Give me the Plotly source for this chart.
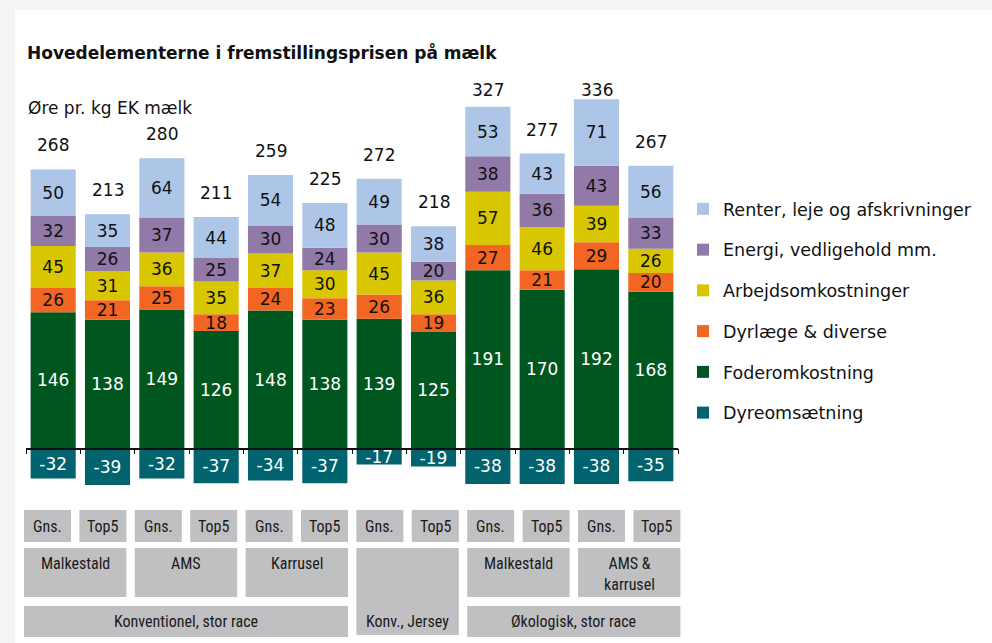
import plotly.graph_objects as go

# ---------------- data ----------------
bars = ["Malk Gns", "Malk Top5", "AMS Gns", "AMS Top5", "Karr Gns", "Karr Top5",
        "Jersey Gns", "Jersey Top5", "Øko Malk Gns", "Øko Malk Top5", "Øko AMS Gns", "Øko AMS Top5"]
dyreomsaetning = [-32, -39, -32, -37, -34, -37, -17, -19, -38, -38, -38, -35]
foder = [146, 138, 149, 126, 148, 138, 139, 125, 191, 170, 192, 168]
dyrlaege = [26, 21, 25, 18, 24, 23, 26, 19, 27, 21, 29, 20]
arbejd = [45, 31, 36, 35, 37, 30, 45, 36, 57, 46, 39, 26]
energi = [32, 26, 37, 25, 30, 24, 30, 20, 38, 36, 43, 33]
renter = [50, 35, 64, 44, 54, 48, 49, 38, 53, 43, 71, 56]
totals = [268, 213, 280, 211, 259, 225, 272, 218, 327, 277, 336, 267]

row1_labels = ["Gns.", "Top5"] * 6
row2_groups = [("Malkestald", 0, 1), ("AMS", 2, 3), ("Karrusel", 4, 5),
               ("Malkestald", 8, 9), ("AMS &<br>karrusel", 10, 11)]
row3_groups = [("Konventionel, stor race", 0, 5), ("Økologisk, stor race", 8, 11)]
jersey_group = ("Konv., Jersey", 6, 7)

series = [
    ("Dyreomsætning", dyreomsaetning, "#00636e", "white"),
    ("Foderomkostning", foder, "#00561f", "white"),
    ("Dyrlæge & diverse", dyrlaege, "#f26522", "#111111"),
    ("Arbejdsomkostninger", arbejd, "#d8c600", "#111111"),
    ("Energi, vedligehold mm.", energi, "#9179a8", "#111111"),
    ("Renter, leje og afskrivninger", renter, "#adc6e8", "#111111"),
]

# ---------------- layout constants ----------------
W, H = 992, 643
L, R, T, B = 26, 314, 90, 143
PLOT_H = H - T - B
PLOT_BOTTOM = H - B
YMIN, YMAX = -55, 384
LABEL_CEIL = 358  # total labels never go higher than this (as in the original)
FONT = "DejaVu Sans, Noto Sans, sans-serif"
COND = "Liberation Sans Narrow, Roboto Condensed, DejaVu Sans Condensed, Roboto, sans-serif"

# category box geometry (pixels)
BOX_X0, BOX_STEP, BOX_W = 24, 55.4, 47


def py2paper(py):
    return (PLOT_BOTTOM - py) / PLOT_H


def px2paper(px):
    return (px - L) / (W - L - R)


def box_left(i):
    return px2paper(BOX_X0 + BOX_STEP * i)


def box_right(i):
    return px2paper(BOX_X0 + BOX_STEP * i + BOX_W)


x = list(range(len(bars)))

fig = go.Figure()
for k, (name, vals, color, tcolor) in enumerate(series):
    fig.add_trace(go.Bar(
        x=x, y=vals, name=name, legendgroup=name,
        legendrank=(len(series) - k) * 100,
        marker=dict(color=color, line=dict(width=0)),
        text=[str(v) for v in vals], textposition="inside", insidetextanchor="middle",
        textangle=0,
        textfont=dict(color=tcolor, size=17, family=FONT),
        constraintext="none", hoverinfo="skip",
    ))

annotations = []
# totals above positive stacks
for i in x:
    top = foder[i] + dyrlaege[i] + arbejd[i] + energi[i] + renter[i]
    annotations.append(dict(x=i, y=min(top, LABEL_CEIL), xref="x", yref="y", text=str(totals[i]),
                            showarrow=False, yanchor="bottom", yshift=12,
                            font=dict(size=17, color="#111111", family=FONT)))

shapes = []
# card background
shapes.append(dict(type="rect", xref="paper", yref="paper", layer="below",
                   x0=px2paper(15), x1=px2paper(W + 5), y0=py2paper(H + 5), y1=py2paper(10),
                   fillcolor="white", line=dict(width=0)))

BOX = "#c0c0c2"
BOXFONT = dict(size=16, color="#1a1a1a", family=COND)

# row 1: Gns./Top5
for i, lab in enumerate(row1_labels):
    shapes.append(dict(type="rect", xref="paper", yref="paper", x0=box_left(i), x1=box_right(i),
                       y0=py2paper(542), y1=py2paper(510), fillcolor=BOX, line=dict(width=0)))
    annotations.append(dict(x=(box_left(i) + box_right(i)) / 2, y=py2paper(526),
                            xref="paper", yref="paper", text=lab, showarrow=False,
                            xanchor="center", yanchor="middle", font=BOXFONT))
# row 2
for lab, a, b in row2_groups:
    shapes.append(dict(type="rect", xref="paper", yref="paper", x0=box_left(a), x1=box_right(b),
                       y0=py2paper(597), y1=py2paper(548), fillcolor=BOX, line=dict(width=0)))
    annotations.append(dict(x=(box_left(a) + box_right(b)) / 2, y=py2paper(552),
                            xref="paper", yref="paper", text=lab, showarrow=False,
                            xanchor="center", yanchor="top", font=BOXFONT))
# row 3
for lab, a, b in row3_groups:
    shapes.append(dict(type="rect", xref="paper", yref="paper", x0=box_left(a), x1=box_right(b),
                       y0=py2paper(637), y1=py2paper(606), fillcolor=BOX, line=dict(width=0)))
    annotations.append(dict(x=(box_left(a) + box_right(b)) / 2, y=py2paper(621),
                            xref="paper", yref="paper", text=lab, showarrow=False,
                            xanchor="center", yanchor="middle", font=BOXFONT))
# jersey (rows 2-3)
lab, a, b = jersey_group
shapes.append(dict(type="rect", xref="paper", yref="paper", x0=box_left(a), x1=box_right(b),
                   y0=py2paper(635), y1=py2paper(548), fillcolor=BOX, line=dict(width=0)))
annotations.append(dict(x=(box_left(a) + box_right(b)) / 2, y=py2paper(621),
                        xref="paper", yref="paper", text=lab, showarrow=False,
                        xanchor="center", yanchor="middle", font=BOXFONT))

# subtitle
annotations.append(dict(x=px2paper(26), y=py2paper(108), xref="paper", yref="paper",
                        text="Øre pr. kg EK mælk", showarrow=False, xanchor="left",
                        yanchor="middle",
                        font=dict(size=17, color="#111111", family=FONT)))

fig.update_layout(
    width=W, height=H,
    margin=dict(l=L, r=R, t=T, b=B),
    paper_bgcolor="#f4f4f4", plot_bgcolor="rgba(0,0,0,0)",
    barmode="relative", bargap=0.17,
    title=dict(text="<b>Hovedelementerne i fremstillingsprisen på mælk</b>",
               x=27 / W, xanchor="left", xref="container",
               y=1 - 53 / H, yanchor="middle", yref="container",
               font=dict(size=17, color="#111111", family=FONT)),
    xaxis=dict(range=[-0.5, len(bars) - 0.5], showgrid=False, zeroline=False,
               showline=True, linecolor="#111111", linewidth=1.5,
               anchor="free", position=(0 - YMIN) / (YMAX - YMIN),
               ticks="outside", ticklen=5, tickwidth=1, tickcolor="#111111",
               tickvals=[i - 0.5 for i in range(len(bars) + 1)],
               showticklabels=False, layer="above traces", fixedrange=True),
    yaxis=dict(range=[YMIN, YMAX], visible=False, showgrid=False, zeroline=False,
               fixedrange=True),
    legend=dict(traceorder="grouped", x=px2paper(683), y=py2paper(191),
                xanchor="left", yanchor="top", bgcolor="rgba(0,0,0,0)",
                font=dict(size=17.5, color="#111111", family=FONT),
                tracegroupgap=15, itemclick=False),
    shapes=shapes, annotations=annotations,
    showlegend=True,
)

fig.write_html("out.html", config={"displayModeBar": False},
               post_script="document.body.style.margin='0';document.body.style.padding='0';")
